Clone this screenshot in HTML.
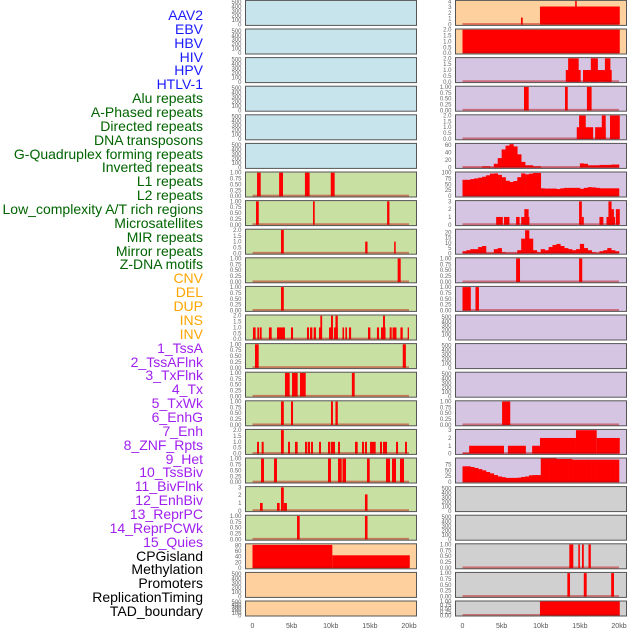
<!DOCTYPE html>
<html><head><meta charset="utf-8">
<style>
html,body{margin:0;padding:0;background:#fff;}
#wrap{position:relative;width:630px;height:630px;overflow:hidden;font-family:"Liberation Sans",sans-serif;}
.lab{position:absolute;right:427px;font-size:14px;line-height:14px;white-space:nowrap;}
svg{position:absolute;left:0;top:0;}
</style></head>
<body>
<div id="wrap">
<div id="labels"></div>
<svg id="chart" width="630" height="630"></svg>
</div>
<script>
// ---- data ----
const labelNames = ["AAV2","EBV","HBV","HIV","HPV","HTLV-1","Alu repeats","A-Phased repeats","Directed repeats","DNA transposons","G-Quadruplex forming repeats","Inverted repeats","L1 repeats","L2 repeats","Low_complexity A/T rich regions","Microsatellites","MIR repeats","Mirror repeats","Z-DNA motifs","CNV","DEL","DUP","INS","INV","1_TssA","2_TssAFlnk","3_TxFlnk","4_Tx","5_TxWk","6_EnhG","7_Enh","8_ZNF_Rpts","9_Het","10_TssBiv","11_BivFlnk","12_EnhBiv","13_ReprPC","14_ReprPCWk","15_Quies","CPGisland","Methylation","Promoters","ReplicationTiming","TAD_boundary"];
const labelGroups = ["v","v","v","v","v","v","r","r","r","r","r","r","r","r","r","r","r","r","r","s","s","s","s","s","c","c","c","c","c","c","c","c","c","c","c","c","c","c","c","o","o","o","o","o"];
const xTickLabels = ["0","5kb","10kb","15kb","20kb"];
const xTickValues = [0,5,10,15,20];

// bar tracks: [startKb, endKb, value]
const L_alu = [[0.58,1.05,1],[3.4,3.9,1],[6.7,7.3,1],[10.0,10.5,1]];
const L_aphased = [[0.45,0.8,1],[7.73,7.95,1],[17.2,17.5,1]];
const L_directed = [[3.64,4.0,2],[14.4,14.7,1],[18.1,18.3,1]];
const L_dnatrans = [[18.55,18.94,1]];
const L_gquad = [[3.64,4.0,1]];
const L_inverted = [[0.06,0.4,1],[0.62,0.87,1],[0.96,1.17,1],[2.1,2.45,1],[3.13,4.15,1],[4.92,5.18,1],[6.96,7.22,1],[7.35,7.65,1],[7.82,8.11,1],[8.5,8.84,1],[8.67,8.9,2],[9.78,10.3,1],[10.03,10.28,2],[10.42,10.9,1],[10.6,10.9,2],[11.5,11.7,1],[11.87,12.08,1],[12.33,12.6,1],[14.76,15.06,1],[15.9,16.17,1],[16.42,17.0,1],[16.68,16.93,2],[17.53,17.79,1],[17.9,18.4,1],[18.9,19.2,1],[19.83,20.0,1]];
const L_l1 = [[0.32,0.79,1],[19.2,19.6,1]];
const L_l2 = [[4.15,4.75,1],[5.05,5.77,1],[6.07,6.8,1],[12.7,13.06,1]];
const L_lowcomp = [[3.64,4.0,1],[4.92,5.18,1],[10.03,10.28,1],[10.6,10.9,1]];
const L_micro = [[0.58,0.83,1],[1.17,1.43,1],[3.64,4.0,2],[4.54,4.79,1],[5.43,5.77,1],[6.71,6.96,1],[7.05,7.35,1],[7.48,7.73,1],[8.5,8.75,1],[9.65,9.94,1],[10.03,10.54,1],[10.93,11.18,1],[13.1,13.44,1],[13.99,14.25,1],[14.37,14.63,1],[15.02,15.74,1],[16.29,16.55,1],[16.68,17.19,1],[18.34,18.6,1],[19.49,19.74,1]];
const L_mir = [[1.09,1.47,1],[2.75,3.13,1],[9.65,10.03,1],[10.93,11.4,1],[11.5,11.95,1],[14.63,14.98,1],[17.06,17.57,1],[17.83,18.34,1],[18.85,19.36,1]];
const L_mirror = [[0.96,1.3,1],[3.13,3.47,1],[3.64,4.0,3],[4.0,4.4,1],[14.37,14.7,2.1]];
const L_zdna = [[5.69,6.03,1],[14.37,14.7,1]];
const L_cnv = [[0.0,10.2,82],[10.2,20.1,45]];
const R_ins = [[7.47,7.7,1.2],[9.9,20.1,3.1],[14.4,14.6,4.3]];
const R_inv = [[0.0,20.1,2]];
const R_tssa = [[13.2,15.1,1],[13.5,14.85,2],[15.4,19.07,1],[16.4,17.3,2],[18.2,18.9,2]];
const R_tssaflnk = [[7.86,8.46,1],[13.1,13.45,1],[15.9,16.5,1]];
const R_txflnk = [[14.6,16.7,1],[14.9,15.75,2],[16.95,18.3,1],[17.8,18.3,2],[18.85,20.1,2]];
const R_enhg = [[4.3,5.15,1],[5.3,6.0,1],[6.85,7.3,1],[7.5,8.55,1],[7.9,8.45,2],[14.9,15.25,3],[15.25,15.5,1],[17.5,18.0,1],[18.4,19.5,1],[18.65,19.05,3],[19.05,19.35,2],[19.6,20.1,2]];
const R_znf = [[6.85,7.35,1],[14.9,15.3,1]];
const R_het = [[0.0,1.06,1],[1.66,2.1,1]];
const R_reprpc = [[5.06,6.1,1]];
const R_reprpcwk = [[0.0,0.85,0.08],[0.85,5.3,1],[5.8,8.1,1],[8.9,9.9,1],[9.9,14.5,2],[14.5,17.15,3],[17.15,20.1,2]];
const R_promoters = [[13.65,14.16,1],[14.8,15.0,1],[15.27,15.5,1],[16.1,16.4,1]];
const R_reptiming = [[13.4,13.74,1],[15.5,15.87,1],[19.0,19.36,1]];
const R_tad = [[9.9,20.1,1]];
// profile tracks: 40 bins of 0.5 kb
const R_tx = [0.5,0.5,0.5,0.5,0.5,3,3,1,10,25,48,58,62,56,35,15,6,6,3,3,0.3,0.3,0.3,0.3,0.3,0.3,0.3,0.3,0.3,0.3,11,10,6,6,6,7,7,7,8,8];
const R_txwk = [69,69,72,75,78,82,88,95,96,90,80,65,60,64,80,96,92,95,98,98,33,32,32,32,30,33,35,35,35,35,31,35,38,37,35,33,33,33,33,33];
const R_enh = [2,3,4,4,6,7,0.5,0.5,4,5,1,0.5,0.5,0.5,3,14,22,14,3,1,4,3,6,8,9,7,5,4,3,4,9,5,3,1,0.5,2,3,5,3,2];
const R_quies = [67,67,64,60,55,50,43,37,30,24,21,18,18,18,19,22,24,29,30,30,100,100,100,100,98,98,98,98,95,95,95,95,95,95,95,95,95,95,95,95];

// ---- layout ----
const BG = {v:"#c7e3ec", r:"#c9e0a3", s:"#fed09d", c:"#d5c5e3", o:"#d0d0d0"};
const LCOL = {v:"#1a1aff", r:"#006400", s:"#ffa500", c:"#a020f0", o:"#000000"};
const TICKS = {
  e:{t:[0,100,200,300,400,500],max:540,f:0},
  u:{t:[0,0.25,0.5,0.75,1],max:1.03,f:2},
  t:{t:[0,0.5,1,1.5,2],max:2.06,f:1},
  n3:{t:[0,1,2,3],max:3.1,f:0},
  n4:{t:[0,1,2,3,4],max:4.15,f:0},
  tx:{t:[0,20,40,60],max:64,f:0},
  h100:{t:[0,25,50,75,100],max:102,f:0},
  q:{t:[0,25,50,75],max:102,f:0},
  enh:{t:[0,5,10,15,20],max:23,f:0},
  cpg:{t:[0,20,40,60,80],max:86,f:0}
};
const leftCol = [
 ["v","e",null,"aav2"],["v","e",null,"ebv"],["v","e",null,"hbv"],["v","e",null,"hiv"],["v","e",null,"hpv"],["v","e",null,"htlv1"],
 ["r","u",L_alu,"alu"],["r","u",L_aphased,"a-phased"],["r","t",L_directed,"directed"],["r","u",L_dnatrans,"dna-transposons"],["r","u",L_gquad,"g-quadruplex"],["r","t",L_inverted,"inverted"],["r","u",L_l1,"l1"],["r","u",L_l2,"l2"],["r","u",L_lowcomp,"low-complexity"],["r","t",L_micro,"microsatellites"],["r","u",L_mir,"mir"],["r","n3",L_mirror,"mirror"],["r","u",L_zdna,"z-dna"],
 ["s","cpg",L_cnv,"cnv"],["s","e",null,"del"],["s","e",null,"dup"]
];
const rightCol = [
 ["s","n4",R_ins,"ins"],["s","t",R_inv,"inv"],["c","t",R_tssa,"tssa"],["c","u",R_tssaflnk,"tssaflnk"],["c","t",R_txflnk,"txflnk"],["c","tx",R_tx,"tx"],["c","h100",R_txwk,"txwk"],["c","n3",R_enhg,"enhg"],["c","enh",R_enh,"enh"],["c","u",R_znf,"znf-rpts"],["c","u",R_het,"het"],["c","e",null,"tssbiv"],["c","e",null,"bivflnk"],["c","e",null,"enhbiv"],["c","u",R_reprpc,"reprpc"],["c","n3",R_reprpcwk,"reprpcwk"],["c","q",R_quies,"quies"],
 ["o","e",null,"cpgisland"],["o","e",null,"methylation"],["o","u",R_promoters,"promoters"],["o","u",R_reptiming,"replication-timing"],["o","u",R_tad,"tad-boundary"]
];

// labels
const labDiv = document.getElementById('labels');
labelNames.forEach((n,i)=>{
  const d=document.createElement('div');
  d.className='lab';
  d.textContent=n;
  d.style.top=(8+i*13.86)+'px';
  d.style.color=LCOL[labelGroups[i]];
  
  
  labDiv.appendChild(d);
});

const NS="http://www.w3.org/2000/svg";
const svg=document.getElementById('chart');
function mk(tag,attrs,parent){const e=document.createElementNS(NS,tag);for(const k in attrs)e.setAttribute(k,attrs[k]);(parent||svg).appendChild(e);return e;}

function drawPanel(col,row,spec){
  const [grp,tk,data,name]=spec;
  const px = col===0?245.5:455.5, pw=171;
  const x0 = col===0?252.5:462.5, x20 = col===0?409:619;
  const top = 0.4+row*28.6, h = row===21?15:25;
  const T=TICKS[tk];
  const ymin=-0.035*T.max;
  const xs=kb=>x0+(x20-x0)*kb/20;
  const ys=v=>top+h-(v-ymin)/(T.max-ymin)*h;
  const g=mk('g',{});
  
  
  mk('rect',{x:px,y:top,width:pw,height:h,fill:BG[grp]},g);
  if(data){
    if(typeof data[0]==='number'){
      data.forEach((v,i)=>{
        const r=mk('rect',{x:xs(i*0.5),y:ys(v),width:xs((i+1)*0.5)-xs(i*0.5)+0.3,height:Math.max(0,ys(0)-ys(v)),fill:"#ff0000"},g);
        
        
      });
    } else {
      data.forEach(b=>{
        const r=mk('rect',{x:xs(b[0]),y:ys(b[2]),width:Math.max(1.2,xs(b[1])-xs(b[0])),height:Math.max(0,ys(0)-ys(b[2])),fill:"#ff0000"},g);
        
        
      });
    }
    mk('rect',{x:xs(0),y:ys(0)-1.5,width:xs(20)-xs(0),height:2,fill:"rgba(190,0,0,0.45)"},g);
  }
  mk('rect',{x:px,y:top,width:pw,height:h,fill:"none",stroke:"#555",'stroke-width':1},g);
  T.t.forEach(t=>{
    const y=ys(t);
    const tx=mk('text',{x:px-4,y:y+2,'font-size':6,'text-anchor':'end',fill:'#666','font-family':'Liberation Sans, sans-serif'},g);
    tx.textContent=t.toFixed(T.f);
    
    
  });
}
leftCol.forEach((s,i)=>drawPanel(0,i,s));
rightCol.forEach((s,i)=>drawPanel(1,i,s));

// x axes
[[252.5,409],[462.5,619]].forEach((c,ci)=>{
  xTickValues.forEach((v,i)=>{
    const x=c[0]+(c[1]-c[0])*v/20;
    const t=mk('text',{x:x,y:628,'font-size':7,'text-anchor':'middle',fill:'#555','font-family':'Liberation Sans, sans-serif'});
    t.textContent=xTickLabels[i];
    
    
  });
});
</script>
</body></html>
